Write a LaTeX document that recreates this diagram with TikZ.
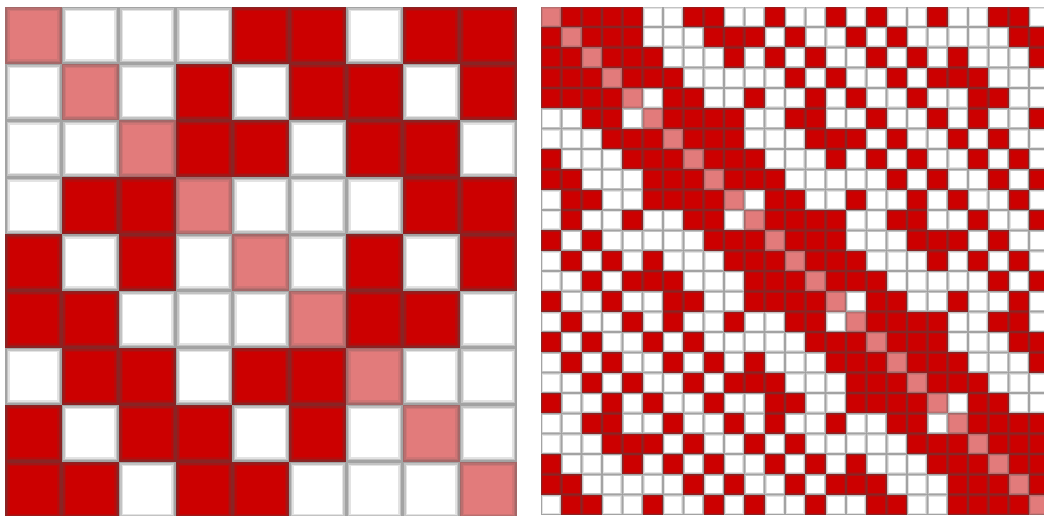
\documentclass[tikz,border=0pt]{standalone}
\definecolor{cellred}{HTML}{CC0000}
\definecolor{rededge}{HTML}{8A2323}
\definecolor{cellpink}{HTML}{E27B7B}
\definecolor{pinkedge}{HTML}{A46868}
\definecolor{greyedge}{HTML}{A3A3A3}
% one blurred square of a matrix: x, y, side, edge width, kind (0 off, 1 on, 2 diagonal)
\newcommand{\matcell}[5]{%
  \ifcase#5 \def\fg{white}\def\bg{greyedge}\or
    \def\fg{cellred}\def\bg{rededge}\or
    \def\fg{cellpink}\def\bg{pinkedge}\fi
  \fill[\bg] (#1,#2) rectangle ++(#3,#3);
  \fill[\bg!65!\fg] ({#1+#4/3},{#2+#4/3}) rectangle ++({#3-2*#4/3},{#3-2*#4/3});
  \fill[\bg!30!\fg] ({#1+2*#4/3},{#2+2*#4/3}) rectangle ++({#3-4*#4/3},{#3-4*#4/3});
  \fill[\fg] ({#1+#4},{#2+#4}) rectangle ++({#3-2*#4},{#3-2*#4});}
\begin{document}
\begin{tikzpicture}[x=1pt,y=-1pt]
  \useasboundingbox[fill=white] (0,0) rectangle (1044,516);
  \clip (0,0) rectangle (1044,516);
  % 9 x 9 matrix
  \foreach \i in {0,...,8}{
    \foreach \j in {0,...,8}{
      \pgfmathtruncatemacro\kind{\i==\j ? 2 : ((floor(\i/3)!=floor(\j/3)) && (mod(\i,3)!=mod(\j,3)) ? 1 : 0)}
      \matcell{5+56.85*\j}{6.7+56.85*\i}{56.85}{4.5}{\kind}
    }
  }
  % 25 x 25 matrix
  \foreach \i in {0,...,24}{
    \foreach \j in {0,...,24}{
      \pgfmathtruncatemacro\nrm{mod((mod(\j,5)-mod(\i,5))^2+2*(floor(\j/5)-floor(\i/5))^2,5)}
      \pgfmathtruncatemacro\kind{\i==\j ? 2 : ((\nrm==1) || (\nrm==4) ? 1 : 0)}
      \matcell{541+20.33*\j}{6.7+20.33*\i}{20.33}{2.1}{\kind}
    }
  }
\end{tikzpicture}
\end{document}
